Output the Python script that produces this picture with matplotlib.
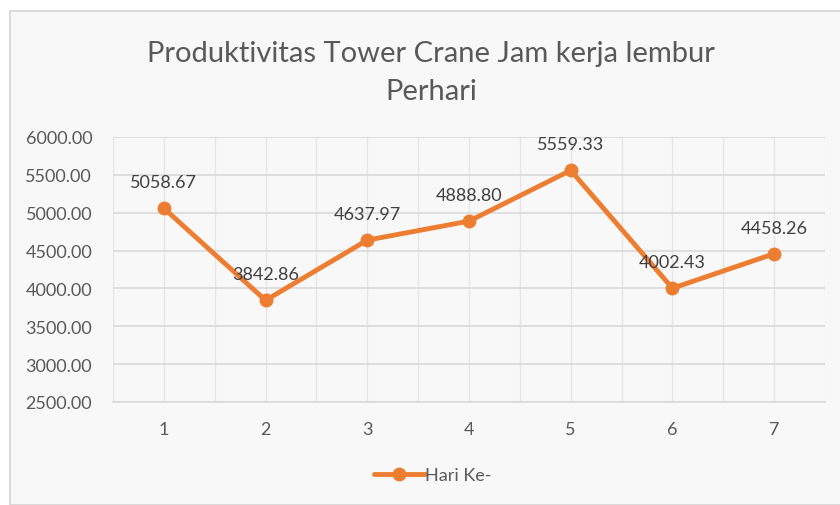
import matplotlib
matplotlib.use("Agg")
import matplotlib.pyplot as plt
from matplotlib.patches import Rectangle
from matplotlib.ticker import MultipleLocator, FormatStrFormatter

days = [1, 2, 3, 4, 5, 6, 7]
productivity = [5058.67, 3842.86, 4637.97, 4888.80, 5559.33, 4002.43, 4458.26]
title = "Produktivitas Tower Crane Jam kerja lembur\nPerhari"
series_name = "Hari Ke-"

orange = "#ED7D31"
grey_text = "#595959"
grid_col = "#d9d9d9"

plt.rcParams["font.family"] = ["Lato", "DejaVu Sans"]

fig = plt.figure(figsize=(8.4, 5.06), dpi=100)
fig.patch.set_facecolor("white")
# chart area frame
fig.patches.append(Rectangle((10 / 840, 0), 1, 1 - 12 / 506, transform=fig.transFigure,
                             facecolor="#f8f8f8", edgecolor="#d4d4d4", linewidth=1.2, zorder=-5))

ax = fig.add_axes([113 / 840, 1 - 403 / 506, (825 - 113) / 840, (403 - 138) / 506])
ax.set_facecolor("#f8f8f8")

ax.plot(days, productivity, color=orange, linewidth=3.5, marker="o", markersize=9,
        label=series_name, zorder=3, solid_capstyle="round")
for x, y in zip(days, productivity):
    ax.annotate(f"{y:.2f}", (x, y), xytext=(0, 13), textcoords="offset points",
                ha="center", va="bottom", fontsize=13, color="#404040")

ax.set_xlim(0.5, 7.5)
ax.set_ylim(2500, 6000)
ax.yaxis.set_major_locator(MultipleLocator(500))
ax.yaxis.set_major_formatter(FormatStrFormatter("%.2f"))
ax.set_xticks(days)
ax.xaxis.set_minor_locator(MultipleLocator(0.5))
ax.grid(axis="y", which="major", color=grid_col, linewidth=1.2)
ax.grid(axis="x", which="both", color="#e6e6e6", linewidth=1.0)
ax.set_axisbelow(True)
for s in ax.spines.values():
    s.set_visible(False)
ax.spines["bottom"].set_visible(True)
ax.spines["bottom"].set_color(grid_col)
ax.spines["bottom"].set_linewidth(1.2)
ax.tick_params(axis="both", which="both", length=0, labelsize=13, colors=grey_text)
ax.tick_params(axis="y", pad=15)
ax.tick_params(axis="x", pad=14)

fig.text(431 / 840, 1 - 73 / 506, title, ha="center", va="center",
         fontsize=21, color=grey_text, linespacing=1.6)

fig.legend(loc="center", bbox_to_anchor=(433 / 840, 1 - 476 / 506), frameon=False,
           fontsize=13, labelcolor=grey_text, handlelength=2.8, handletextpad=0.05)

fig.savefig("out.png", dpi=100)
